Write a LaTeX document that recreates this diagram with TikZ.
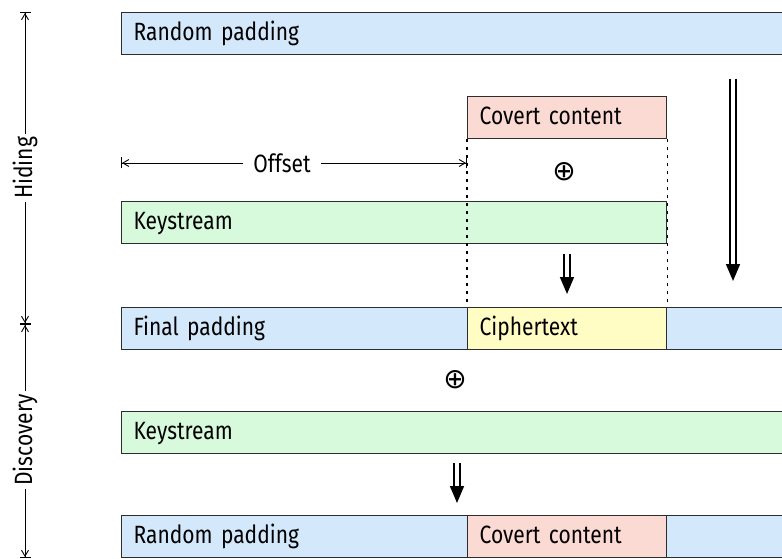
\documentclass[tikz,border=0pt]{standalone}
\usepackage{fontspec}
\setmainfont{Fira Sans}[FakeStretch=0.84]
\newfontfamily\symfont{DejaVu Sans}
\usetikzlibrary{arrows.meta}
\definecolor{padblue}{RGB}{212,232,252}
\definecolor{keygreen}{RGB}{216,250,220}
\definecolor{covred}{RGB}{252,218,212}
\definecolor{ciphyel}{RGB}{255,252,196}
\definecolor{edge}{RGB}{45,45,45}
\begin{document}
\begin{tikzpicture}[x=1pt,y=-1pt,
  font=\fontsize{25}{30}\selectfont,
  cell/.style={draw=edge, line width=1.3pt, anchor=north west, minimum height=42pt,
    inner ysep=0pt, inner xsep=12pt, align=left, text height=18pt, text depth=5pt},
  xor/.style={inner sep=0pt, font=\symfont\fontsize{28}{32}\selectfont},
  dblarrow/.style={double=white, double distance=4.5pt, line width=1.7pt,
    -{Triangle[length=17pt, width=14pt]}},
  dim/.style={line width=0.9pt},
  dimtip/.style={-{Straight Barb[length=6pt,width=7pt]Bar[width=11pt,line width=1pt]}},
  guide/.style={line width=1.2pt, dash pattern=on 3pt off 5pt},
  axislabel/.style={fill=white, rotate=90, inner sep=3pt}]
\useasboundingbox (0,0) rectangle (782,559);

% Hiding phase
\node[cell, fill=padblue, text width=645pt] (pad1) at (121,12) {Random padding};
\node[cell, fill=covred, text width=175pt] (cov1) at (467,96) {Covert content};
\node[cell, fill=keygreen, text width=521pt] (key1) at (121,201) {Keystream};
\node[xor] (x1) at (564,172) {⊕};

% Result of hiding
\node[cell, fill=padblue, text width=322pt] (fin) at (121,307) {Final padding};
\node[cell, fill=ciphyel, text width=175pt] (ciph) at (467,307) {Ciphertext};
\node[cell, fill=padblue, text width=100pt] (finr) at (666,307) {};

% Discovery phase
\node[xor] (x2) at (455,380) {⊕};
\node[cell, fill=keygreen, text width=645pt] (key2) at (121,411) {Keystream};
\node[cell, fill=padblue, text width=322pt] (pad2) at (121,515) {Random padding};
\node[cell, fill=covred, text width=175pt] (cov2) at (467,515) {Covert content};
\node[cell, fill=padblue, text width=100pt] (pad2r) at (666,515) {};

% Dotted guides from the covert content down to the ciphertext
\draw[guide] (cov1.south west) -- (ciph.north west);
\draw[guide] (cov1.south east) -- (ciph.north east);

% Offset dimension
\coordinate (offL) at (121,163);
\coordinate (offR) at (467,163);
\node[fill=white, inner xsep=10pt, inner ysep=2pt] (off) at (282,163) {Offset};
\draw[dim, dimtip] (off.west) -- (offL);
\draw[dim, dimtip] (off.east) -- (offR);

% Transformation arrows
\coordinate (a1s) at (567,254);
\coordinate (a1e) at (567,294);
\draw[dblarrow] (a1s) -- (a1e);
\coordinate (a2s) at (733,79);
\coordinate (a2e) at (733,281);
\draw[dblarrow] (a2s) -- (a2e);
\coordinate (a3s) at (457,463);
\coordinate (a3e) at (457,503);
\draw[dblarrow] (a3s) -- (a3e);

% Phase axis
\coordinate (axTop) at (25,12);
\coordinate (axMid) at (25,324);
\coordinate (axBot) at (25,558);
\node[axislabel] (hid) at (25,168) {Hiding};
\node[axislabel] (dis) at (25,440) {Discovery};
\draw[dim, dimtip] (hid.east) -- (axTop);
\draw[dim, dimtip] (hid.west) -- (axMid);
\draw[dim, dimtip] (dis.east) -- (axMid);
\draw[dim, dimtip] (dis.west) -- (axBot);
\end{tikzpicture}
\end{document}
